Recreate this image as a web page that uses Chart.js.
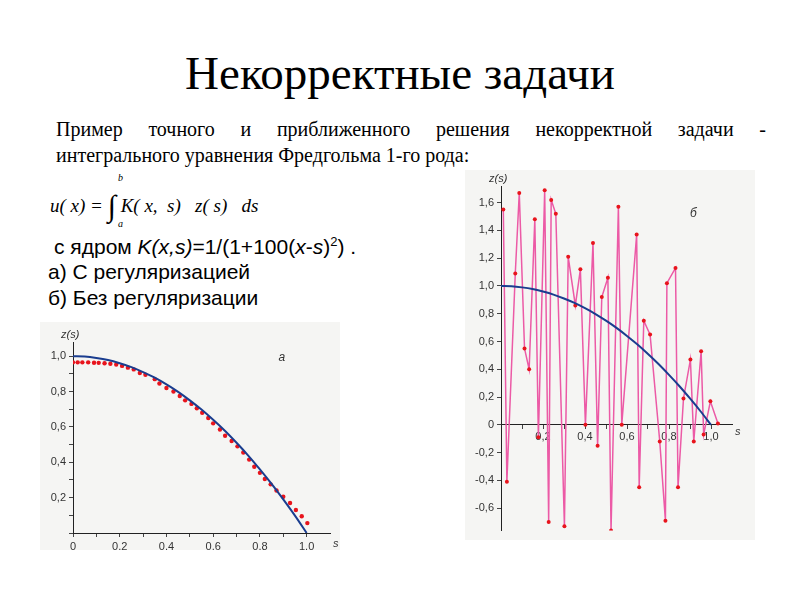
<!DOCTYPE html>
<html><head><meta charset="utf-8">
<script src="https://cdn.jsdelivr.net/npm/chart.js@4.4.0/dist/chart.umd.min.js"></script>
<style>
body{margin:0;width:800px;height:600px;background:#fff;font-family:"Liberation Serif",serif;position:relative;overflow:hidden}
.abs{position:absolute}
h1{position:absolute;left:0;width:800px;top:46px;margin:0;text-align:center;font-weight:normal;font-size:47px}
.p{left:56px;width:710px;font-size:20px;line-height:26px}
.f{left:50px;top:185px;font-size:19px;font-style:italic}
.t{font-family:"Liberation Sans",sans-serif;font-size:21px}
#ca{left:40px;top:322px;background:#f5f5f3}
#cb{left:465px;top:170px;background:#f5f5f3}
</style></head><body>
<h1>Некорректные задачи</h1>
<div class="abs p" style="top:116px;text-align:justify;text-align-last:justify">Пример точного и приближенного решения некорректной задачи -</div>
<div class="abs p" style="top:142px">интегрального уравнения Фредгольма 1-го рода:</div>
<div class="abs f">u( x) = <span style="font-size:30px;font-style:normal;position:relative;top:4px">∫</span> K( x,&nbsp; s)&nbsp;&nbsp; z( s)&nbsp;&nbsp; ds</div>
<div class="abs" style="left:118px;top:172px;font-size:10px;font-style:italic">b</div>
<div class="abs" style="left:118px;top:218px;font-size:10px;font-style:italic">a</div>
<div class="abs t" style="left:54px;top:234px">с ядром <i>K(x,s)</i>=1/(1+100(<i>x</i>-<i>s</i>)<sup style="font-size:13px">2</sup>) .</div>
<div class="abs t" style="left:48px;top:260px">а) С регуляризацией</div>
<div class="abs t" style="left:48px;top:286px">б) Без регуляризации</div>
<canvas id="ca" class="abs" width="300" height="228" style="width:300px;height:228px"></canvas>
<canvas id="cb" class="abs" width="290" height="370" style="width:290px;height:370px"></canvas>
<script>
// exact solution z(s)
const exactS = [0,0.05,0.1,0.15,0.2,0.25,0.3,0.35,0.4,0.45,0.5,0.55,0.6,0.65,0.7,0.75,0.8,0.85,0.9,0.95,1.0];
const exactZ = [1,0.998,0.99,0.978,0.96,0.938,0.91,0.878,0.84,0.798,0.75,0.698,0.64,0.578,0.51,0.438,0.36,0.278,0.19,0.098,0];
// regularized solution (a)
const regS = [0,0.02,0.04,0.065,0.09,0.11,0.135,0.16,0.185,0.21,0.235,0.26,0.286,0.31,0.35,0.37,0.4,0.43,0.457,0.48,0.507,0.53,0.553,0.579,0.6,0.629,0.651,0.679,0.704,0.729,0.754,0.776,0.8,0.821,0.846,0.871,0.9,0.929,0.954,0.979,1.003];
const regZ = [0.965,0.965,0.965,0.965,0.963,0.962,0.96,0.957,0.953,0.945,0.935,0.925,0.905,0.895,0.87,0.845,0.82,0.8,0.775,0.75,0.73,0.705,0.68,0.65,0.62,0.585,0.55,0.52,0.49,0.455,0.415,0.375,0.34,0.305,0.275,0.24,0.205,0.17,0.13,0.095,0.056];
// unregularized solution (б)
const rawS = [0.011,0.028,0.068,0.087,0.112,0.134,0.161,0.178,0.208,0.227,0.239,0.261,0.302,0.32,0.354,0.378,0.402,0.438,0.46,0.48,0.509,0.524,0.559,0.575,0.646,0.658,0.68,0.71,0.756,0.783,0.79,0.831,0.843,0.869,0.902,0.918,0.953,0.965,0.997,1.033];
const rawZ = [1.55,-0.41,1.09,1.67,0.55,0.40,1.48,-0.09,1.69,-0.70,1.62,1.52,-0.73,1.21,0.86,1.12,0.0,1.31,-0.15,0.92,1.06,-0.76,1.57,0.0,1.37,-0.45,0.75,0.65,-0.12,-0.69,1.02,1.13,-0.45,0.19,0.47,-0.12,0.53,-0.07,0.17,0.01];
const ticksA = [0,0.1,0.2,0.3,0.4,0.5,0.6,0.7,0.8,0.9,1.0];
const ticksBY = [-0.6,-0.4,-0.2,0,0.2,0.4,0.6,0.8,1.0,1.2,1.4,1.6];
const ticksBX = [0.1,0.2,0.3,0.4,0.5,0.6,0.7,0.8,0.9,1.0];

const pts = (xs, ys) => xs.map((x, i) => ({x, y: ys[i]}));
const lbl = v => (Math.round(v * 10) % 2 === 0) ? v.toFixed(1).replace('.', ',').replace(/^-?0,0$/, '0') : '';
const tickFont = {family: 'Liberation Sans', size: 11};
const gridOpt = {drawOnChartArea: false, tickLength: 4, color: '#444'};

const axisLabels = (xl, yl) => ({
  id: 'labels',
  afterDraw(c) {
    const {ctx, scales: {x, y}} = c;
    ctx.save();
    ctx.fillStyle = '#333';
    ctx.font = 'italic 11px Liberation Sans';
    ctx.fillText('z(s)', x.left - 12, y.top - 4);
    ctx.fillText('s', x.right + 3, y.getPixelForValue(0) + (yl === 'a' ? 14 : 10));
    ctx.font = 'italic 12px Liberation Sans';
    ctx.fillText(yl, x.getPixelForValue(xl), y.getPixelForValue(yl === 'a' ? 0.97 : 1.5));
    ctx.restore();
  }
});

new Chart(document.getElementById('ca'), {
  type: 'scatter',
  data: {datasets: [
    {data: pts(regS, regZ), pointRadius: 2.2, pointBackgroundColor: '#e8141c', pointBorderWidth: 0, order: 2},
    {data: pts(exactS, exactZ), type: 'line', showLine: true, borderColor: '#1a3d8f', borderWidth: 2, pointRadius: 0, tension: 0.3, order: 1}
  ]},
  options: {
    animation: false, responsive: false,
    layout: {padding: {top: 20, right: 10}},
    plugins: {legend: {display: false}, tooltip: {enabled: false}},
    scales: {
      x: {type: 'linear', min: 0, max: 1.1, afterBuildTicks: s => { s.ticks = ticksA.map(v => ({value: v})); },
        afterFit: s => { s.height = 17; },
        ticks: {callback: v => v === 0 ? '0' : lbl(v), font: tickFont, color: '#333', maxRotation: 0, autoSkip: false},
        grid: gridOpt, border: {color: '#222'}},
      y: {min: 0, max: 1.08, afterBuildTicks: s => { s.ticks = ticksA.map(v => ({value: v})); },
        afterFit: s => { s.width = 33; },
        ticks: {callback: v => v === 0 ? '' : lbl(v), font: tickFont, color: '#333', autoSkip: false},
        grid: gridOpt, border: {color: '#222'}}
    }
  },
  plugins: [axisLabels(0.88, 'a')]
});

new Chart(document.getElementById('cb'), {
  type: 'scatter',
  data: {datasets: [
    {data: pts(rawS, rawZ), showLine: true, borderColor: '#ec5aa6', borderWidth: 1.5, pointRadius: 2, pointBackgroundColor: '#e8141c', pointBorderWidth: 0, order: 2},
    {data: pts(exactS, exactZ), type: 'line', showLine: true, borderColor: '#1a3d8f', borderWidth: 2, pointRadius: 0, tension: 0.3, order: 1}
  ]},
  options: {
    animation: false, responsive: false,
    layout: {padding: {top: 16, right: 23, bottom: 2}},
    plugins: {legend: {display: false}, tooltip: {enabled: false}},
    scales: {
      x: {type: 'linear', min: 0, max: 1.1, position: {y: 0},
        afterBuildTicks: s => { s.ticks = ticksBX.map(v => ({value: v})); },
        afterFit: s => { s.height = 0; },
        ticks: {callback: v => lbl(v), font: tickFont, color: '#333', maxRotation: 0, autoSkip: false, padding: 2},
        grid: gridOpt, border: {color: '#222'}},
      y: {min: -0.76, max: 1.72,
        afterBuildTicks: s => { s.ticks = ticksBY.map(v => ({value: v})); },
        afterFit: s => { s.width = 36; },
        ticks: {callback: v => lbl(v), font: tickFont, color: '#333', autoSkip: false},
        grid: gridOpt, border: {color: '#222'}}
    }
  },
  plugins: [axisLabels(0.9, 'б')]
});
</script>
</body></html>
